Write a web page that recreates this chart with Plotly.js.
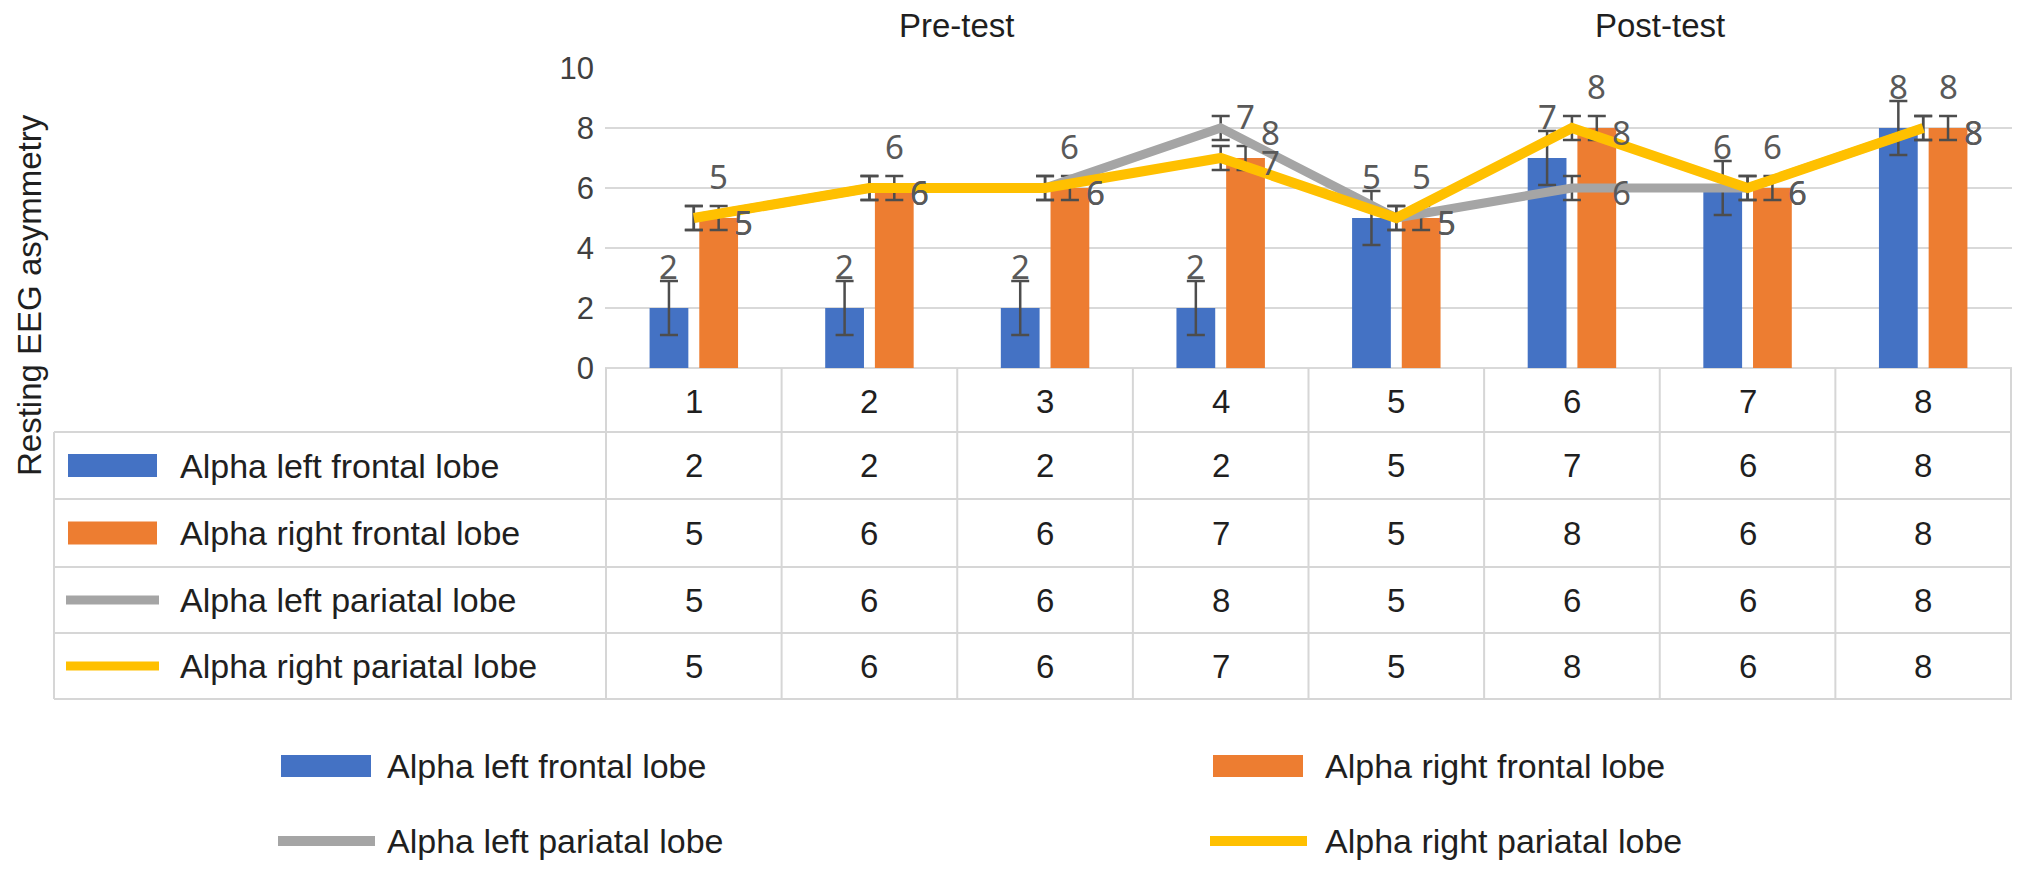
<!DOCTYPE html>
<html>
<head>
<meta charset="utf-8">
<script src="https://cdn.plot.ly/plotly-3.0.1.min.js"></script>
<style>
  html, body { margin: 0; padding: 0; background: #ffffff; }
  #chart { width: 2032px; height: 873px; }
</style>
</head>
<body>
<div id="chart"></div>
<script>
// ---------- data ----------
const categories = ['1', '2', '3', '4', '5', '6', '7', '8'];
const seriesNames = ['Alpha left frontal lobe', 'Alpha right frontal lobe', 'Alpha left pariatal lobe', 'Alpha right pariatal lobe'];
const leftFrontal   = [2, 2, 2, 2, 5, 7, 6, 8];
const rightFrontal  = [5, 6, 6, 7, 5, 8, 6, 8];
const leftParietal  = [5, 6, 6, 8, 5, 6, 6, 8];
const rightParietal = [5, 6, 6, 7, 5, 8, 6, 8];
const leftFrontalErr   = [0.9, 0.9, 0.9, 0.9, 0.9, 0.9, 0.9, 0.9];
const rightFrontalErr  = [0.4, 0.4, 0.4, 0.4, 0.4, 0.4, 0.4, 0.4];
const leftParietalErr  = [0.4, 0.4, 0.4, 0.4, 0.4, 0.4, 0.4, 0.4];
const rightParietalErr = [0.4, 0.4, 0.4, 0.4, 0.4, 0.4, 0.4, 0.4];
const phaseLabels = ['Pre-test', 'Post-test'];
const yAxisTitle = 'Resting EEG asymmetry';

// ---------- style ----------
const colors = ['#4472C4', '#ED7D31', '#A5A5A5', '#FFC000'];
const W = 2032, H = 873;
const L = 605, R = 2012, T = 68, B = 368;
const px = x => (x - L) / (R - L);
const py = y => (B - y) / (B - T);
const FONT = 'Liberation Sans, Arial, sans-serif';
const LABELFONT = 'Noto Sans, DejaVu Sans, sans-serif';
const textDark = '#1f1f1f';
const labelGray = '#595959';
const errColor = '#4d4d4d';
const gridColor = '#d9d9d9';
const tableColor = '#d6d6d6';
const bargap = 0.434, bargroupgap = 0.22;
const barOffset = (1 - bargap) / 4;

function err(arr) {
  return { type: 'data', array: arr, visible: true, color: errColor, thickness: 2.5, width: 9 };
}

const traces = [
  { type: 'bar', x: categories, y: leftFrontal, name: seriesNames[0], marker: { color: colors[0] }, error_y: err(leftFrontalErr) },
  { type: 'bar', x: categories, y: rightFrontal, name: seriesNames[1], marker: { color: colors[1] }, error_y: err(rightFrontalErr) },
  { type: 'scatter', mode: 'lines', x: categories, y: leftParietal, name: seriesNames[2], line: { color: colors[2], width: 9 }, error_y: err(leftParietalErr) },
  { type: 'scatter', mode: 'lines', x: categories, y: rightParietal, name: seriesNames[3], line: { color: colors[3], width: 10 }, error_y: err(rightParietalErr) }
];

const annotations = [];
const shapes = [];
function note(o) {
  annotations.push(Object.assign({ showarrow: false, xanchor: 'center', yanchor: 'middle' }, o));
}

// data labels
const labelFont = { family: LABELFONT, size: 33, color: labelGray };
categories.forEach((c, i) => {
  note({ xref: 'x', yref: 'y', x: i - barOffset, y: leftFrontal[i], yshift: 42, text: String(leftFrontal[i]), font: labelFont });
  note({ xref: 'x', yref: 'y', x: i + barOffset, y: rightFrontal[i], yshift: 42, text: String(rightFrontal[i]), font: labelFont });
  note({ xref: 'x', yref: 'y', x: i, xshift: 50, y: leftParietal[i], yshift: -4, text: String(leftParietal[i]), font: labelFont });
  note({ xref: 'x', yref: 'y', x: i, xshift: 50, y: rightParietal[i], yshift: -4, text: String(rightParietal[i]), font: labelFont });
});

// phase labels
note({ xref: 'x', yref: 'paper', x: 1.5, y: py(25), text: phaseLabels[0], font: { family: FONT, size: 33, color: textDark } });
note({ xref: 'x', yref: 'paper', x: 5.5, y: py(25), text: phaseLabels[1], font: { family: FONT, size: 33, color: textDark } });

// y axis title
note({ xref: 'paper', yref: 'paper', x: px(29), y: py(295), text: yAxisTitle, textangle: -90, font: { family: FONT, size: 33, color: textDark } });

// ---------- data table ----------
const rowLines = [432, 499, 567, 633, 699];
const tableLeft = 54;
rowLines.forEach(y => {
  shapes.push({ type: 'line', xref: 'paper', yref: 'paper', x0: px(tableLeft), x1: 1, y0: py(y), y1: py(y), line: { color: tableColor, width: 2 } });
});
shapes.push({ type: 'line', xref: 'paper', yref: 'paper', x0: px(tableLeft), x1: px(tableLeft), y0: py(432), y1: py(699), line: { color: tableColor, width: 2 } });
for (let k = 0; k <= categories.length; k++) {
  shapes.push({ type: 'line', xref: 'x', yref: 'paper', x0: k - 0.5, x1: k - 0.5, y0: 0, y1: py(699), line: { color: tableColor, width: 2 } });
}
const cellFont = { family: FONT, size: 33, color: textDark };
// header row (categories)
categories.forEach((c, i) => {
  note({ xref: 'x', yref: 'paper', x: i, y: py(401), text: c, font: cellFont });
});
const tableRows = [leftFrontal, rightFrontal, leftParietal, rightParietal];
const rowCenters = [465.5, 533, 600, 666];
tableRows.forEach((vals, r) => {
  const yc = rowCenters[r];
  vals.forEach((v, i) => {
    note({ xref: 'x', yref: 'paper', x: i, y: py(yc), text: String(v), font: cellFont });
  });
  note({ xref: 'paper', yref: 'paper', x: px(178), y: py(yc), xanchor: 'left', text: seriesNames[r], font: { family: FONT, size: 34, color: textDark } });
  if (r < 2) {
    shapes.push({ type: 'rect', xref: 'paper', yref: 'paper', x0: px(68), x1: px(157), y0: py(yc - 11.5), y1: py(yc + 11.5), fillcolor: colors[r], line: { width: 0 } });
  } else {
    shapes.push({ type: 'line', xref: 'paper', yref: 'paper', x0: px(66), x1: px(159), y0: py(yc), y1: py(yc), line: { color: colors[r], width: 9 } });
  }
});

// ---------- bottom legend ----------
const legendItems = [
  { sx: 281, tx: 385, y: 766 },
  { sx: 1213, tx: 1323, y: 766 },
  { sx: 281, tx: 385, y: 841 },
  { sx: 1213, tx: 1323, y: 841 }
];
legendItems.forEach((it, r) => {
  if (r < 2) {
    shapes.push({ type: 'rect', xref: 'paper', yref: 'paper', x0: px(it.sx), x1: px(it.sx + 90), y0: py(it.y - 11), y1: py(it.y + 11), fillcolor: colors[r], line: { width: 0 } });
  } else {
    shapes.push({ type: 'line', xref: 'paper', yref: 'paper', x0: px(it.sx - 3), x1: px(it.sx + 94), y0: py(it.y), y1: py(it.y), line: { color: colors[r], width: 10 } });
  }
  note({ xref: 'paper', yref: 'paper', x: px(it.tx), y: py(it.y), xanchor: 'left', text: seriesNames[r], font: { family: FONT, size: 34, color: textDark } });
});

const layout = {
  width: W, height: H,
  margin: { l: L, r: W - R, t: T, b: H - B, pad: 0 },
  paper_bgcolor: '#ffffff', plot_bgcolor: '#ffffff',
  barmode: 'group', bargap: bargap, bargroupgap: bargroupgap,
  showlegend: false,
  xaxis: { type: 'category', showticklabels: false, showgrid: false, zeroline: false, showline: false, ticks: '', automargin: false, fixedrange: true },
  yaxis: {
    range: [0, 10], dtick: 2, tick0: 0, showgrid: true, gridcolor: gridColor, gridwidth: 2,
    zeroline: true, zerolinecolor: gridColor, zerolinewidth: 2, showline: false, ticks: '',
    tickfont: { family: FONT, size: 31, color: '#404040' }, ticklabelstandoff: 10, automargin: false, fixedrange: true
  },
  annotations: annotations,
  shapes: shapes
};

Plotly.newPlot('chart', traces, layout, { displayModeBar: false, staticPlot: true });
</script>
</body>
</html>
